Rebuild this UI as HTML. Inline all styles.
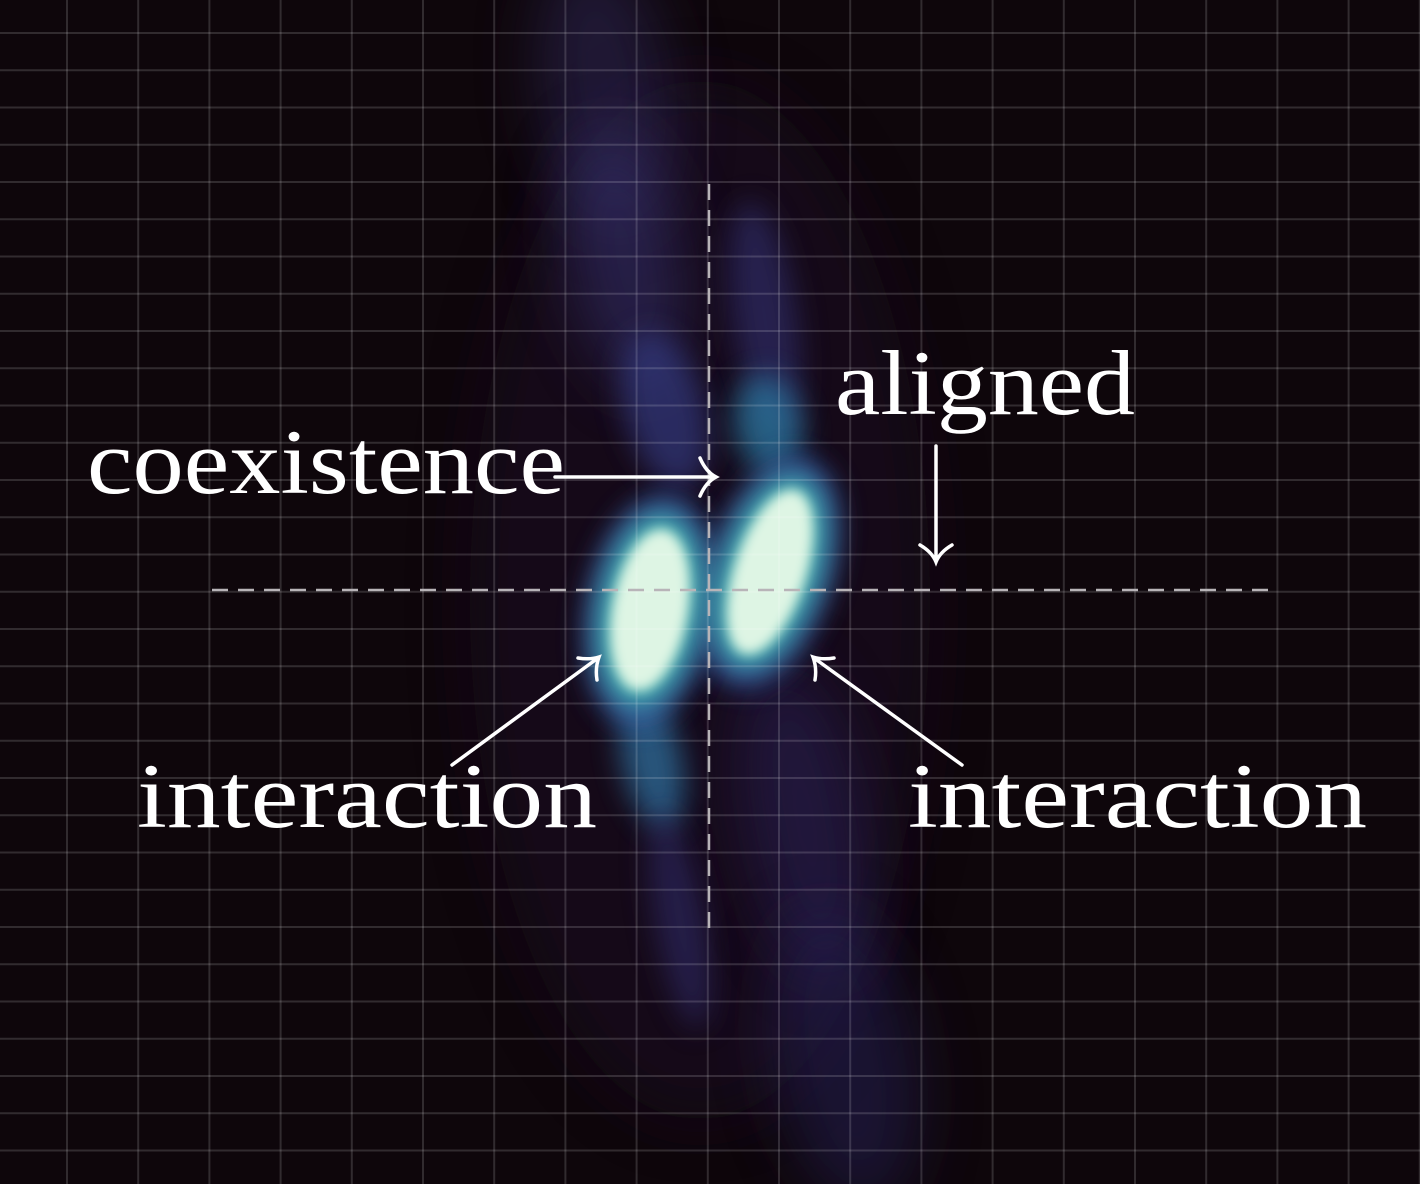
<!DOCTYPE html>
<html><head><meta charset="utf-8"><style>
html,body{margin:0;padding:0;background:#0e060b;}
svg{display:block;}
text{font-family:"Liberation Serif",serif;fill:#fff;}
</style></head><body>
<svg id="chart" width="1420" height="1184" viewBox="0 0 1420 1184" xmlns="http://www.w3.org/2000/svg">
<defs>
<filter id="b1" x="-100%" y="-100%" width="300%" height="300%"><feGaussianBlur stdDeviation="30"/></filter>
<filter id="b2" x="-100%" y="-100%" width="300%" height="300%"><feGaussianBlur stdDeviation="14"/></filter>
<filter id="b3" x="-100%" y="-100%" width="300%" height="300%"><feGaussianBlur stdDeviation="6"/></filter>
</defs>
<rect width="1420" height="1184" fill="#0e060b"/>
<g id="density"></g>
<g id="grid"></g>
<line x1="709" y1="184" x2="709" y2="935" stroke="#b8b4b8" stroke-width="2.5" stroke-dasharray="16,10"/>
<line x1="212" y1="590" x2="1270" y2="590" stroke="#b8b4b8" stroke-width="2.5" stroke-dasharray="16,10"/>
<g stroke="#fff" stroke-width="3.5" fill="none" stroke-linecap="round">
<path d="M555 477 L714 477 M700 458 Q706 472 716 477 Q706 482 700 496"/>
<path d="M936 446 L936 560 M920 545 Q932 552 936 562 Q940 552 952 545"/>
<path d="M452 765 L598 658 M578 658 Q590 660 599 657 Q595 668 597 680"/>
<path d="M962 765 L814 658 M834 658 Q822 660 813 657 Q817 668 815 680"/>
</g>
<text x="87" y="493" font-size="92" textLength="478" lengthAdjust="spacingAndGlyphs">coexistence</text>
<text x="835" y="414" font-size="92" textLength="300" lengthAdjust="spacingAndGlyphs">aligned</text>
<text x="137" y="827" font-size="92" textLength="460" lengthAdjust="spacingAndGlyphs">interaction</text>
<text x="908" y="827" font-size="92" textLength="459" lengthAdjust="spacingAndGlyphs">interaction</text>
</svg>
<script>
// density clusters (image-space estimates)
const blobX  = [700, 605, 625, 665, 765, 768, 652, 680, 805, 845, 650, 770, 650, 770, 650, 770];
const blobY  = [600, 90, 260, 410, 320, 425, 760, 920, 820, 1060, 610, 572, 610, 572, 610, 572];
const blobRX = [230, 65, 55, 40, 32, 34, 30, 25, 60, 70, 62, 60, 50, 48, 38, 36];
const blobRY = [520, 140, 130, 80, 120, 50, 70, 110, 160, 150, 115, 118, 98, 100, 82, 86];
const blobRot= [0, -8, -10, -15, -8, -10, -12, -10, -10, -10, 10, 18, 10, 18, 10, 18];
const blobColor=["#1a1128","#33295f","#34306e","#363c86","#34347a","#2a78a0","#2e6f9e","#332f70","#2c2458","#28215a","#3553a0","#3553a0","#3eb0ab","#3eb0ab","#def5e4","#def5e4"];
const blobOpacity=[0.5,0.5,0.55,0.65,0.55,0.75,0.75,0.55,0.55,0.5,0.9,0.9,1,1,1,1];
const blobBlur=["b1","b1","b1","b2","b2","b2","b2","b2","b1","b1","b2","b2","b2","b2","b3","b3"];
const gridCols = 21, gridRows = 33;
const NS="http://www.w3.org/2000/svg";
const dg=document.getElementById('density');
for(let i=0;i<blobX.length;i++){
  const e=document.createElementNS(NS,'ellipse');
  
  
  e.setAttribute('cx',blobX[i]);e.setAttribute('cy',blobY[i]);
  e.setAttribute('rx',blobRX[i]);e.setAttribute('ry',blobRY[i]);
  e.setAttribute('transform','rotate('+blobRot[i]+' '+blobX[i]+' '+blobY[i]+')');
  e.setAttribute('fill',blobColor[i]);e.setAttribute('opacity',blobOpacity[i]);
  e.setAttribute('filter','url(#'+blobBlur[i]+')');
  dg.appendChild(e);
}
const gg=document.getElementById('grid');
const gx=x=>67+71.2*(x-1), gy=y=>33+37.25*(y-1);
for(let c=0;c<gridCols;c++){
  const l=document.createElementNS(NS,'line');
  
  
  l.setAttribute('x1',gx(c));l.setAttribute('x2',gx(c));l.setAttribute('y1',0);l.setAttribute('y2',1184);
  l.setAttribute('stroke','rgba(255,255,255,0.15)');l.setAttribute('stroke-width','2');
  gg.appendChild(l);
}
for(let r=0;r<gridRows;r++){
  const l=document.createElementNS(NS,'line');
  
  
  l.setAttribute('y1',gy(r));l.setAttribute('y2',gy(r));l.setAttribute('x1',0);l.setAttribute('x2',1420);
  l.setAttribute('stroke','rgba(255,255,255,0.15)');l.setAttribute('stroke-width','2');
  gg.appendChild(l);
}
</script>
</body></html>
